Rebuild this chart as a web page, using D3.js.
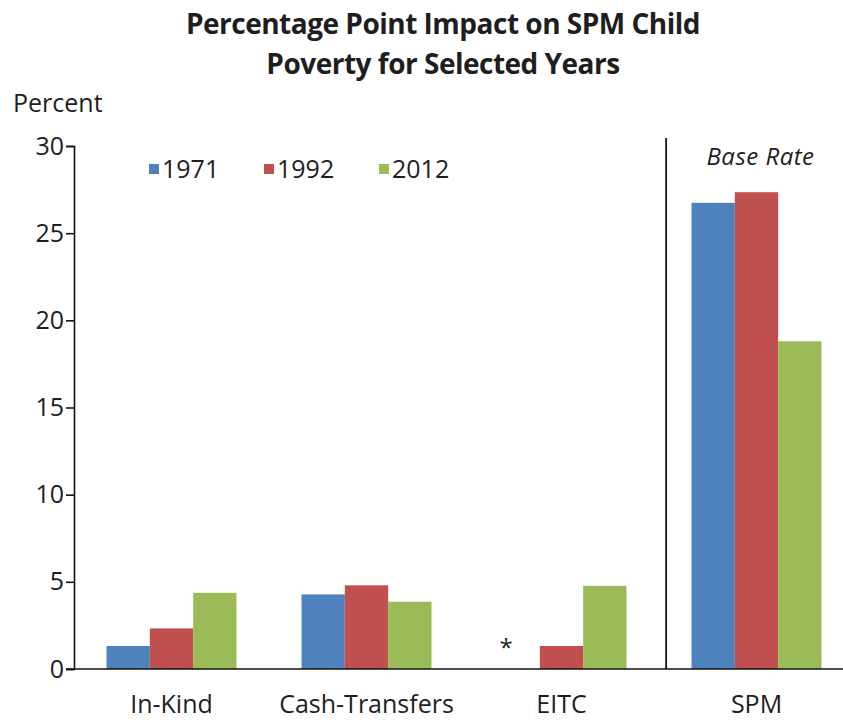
<!DOCTYPE html>
<html>
<head>
<meta charset="utf-8">
<script src="https://cdn.jsdelivr.net/npm/d3@7"></script>
<style>
  body { margin: 0; background: #fff; }
  svg text { font-family: "Open Sans", "Noto Sans", sans-serif; fill: #1e1e1e; }
</style>
</head>
<body>
<svg width="843" height="723"></svg>
<script>
// chart data
var categories = ["In-Kind", "Cash-Transfers", "EITC", "SPM"];
var years = ["1971", "1992", "2012"];
var values1971 = [1.32, 4.28, 0, 26.74];
var values1992 = [2.33, 4.8, 1.32, 27.35];
var values2012 = [4.37, 3.86, 4.77, 18.8];
var yTicks = [0, 5, 10, 15, 20, 25, 30];
var colors = ["#4f81bd", "#c0504d", "#9bbb59"];

(function() {
  var series = [values1971, values1992, values2012];

  var svg = d3.select("svg"),
      width = +svg.attr("width");

  var left = 74, bottom = 669, plotTop = 146;

  var x0 = d3.scaleBand()
      .domain(categories)
      .range([left, left + 780])
      .paddingInner(1 / 3)
      .paddingOuter(1 / 6);

  var x1 = d3.scaleBand()
      .domain(years)
      .range([0, x0.bandwidth()]);

  var y = d3.scaleLinear()
      .domain([0, 30])
      .range([bottom, plotTop]);

  var color = d3.scaleOrdinal().domain(years).range(colors);

  // title
  var title = svg.append("text")
      .attr("x", 443)
      .attr("y", 34)
      .style("text-anchor", "middle")
      .style("font-weight", "bold")
      .style("font-size", "28px")
      .style("letter-spacing", "-0.5px");
  title.append("tspan").attr("x", 443).text("Percentage Point Impact on SPM Child");
  title.append("tspan").attr("x", 443).attr("dy", 40).text("Poverty for Selected Years");

  svg.append("text")
      .attr("x", 13)
      .attr("y", 112)
      .style("font-size", "25px")
      .text("Percent");

  // bars
  var group = svg.selectAll(".cat")
      .data(categories)
      .enter().append("g")
      .attr("class", "cat")
      .attr("transform", function(d) { return "translate(" + x0(d) + ",0)"; });

  group.selectAll("rect")
      .data(function(d, i) {
          return years.map(function(yr, j) { return {year: yr, value: series[j][i]}; })
              .filter(function(e) { return e.value > 0; });
      })
      .enter().append("rect")
      .attr("x", function(d) { return x1(d.year); })
      .attr("y", function(d) { return y(d.value); })
      .attr("width", x1.bandwidth())
      .attr("height", function(d) { return y(0) - y(d.value); })
      .style("fill", function(d) { return color(d.year); });

  // asterisk where the 1971 EITC value is missing
  svg.append("text")
      .attr("x", x0("EITC") + x1("1971") + x1.bandwidth() / 2 - 12)
      .attr("y", y(0) - 13)
      .style("text-anchor", "middle")
      .style("font-size", "24px")
      .text("*");

  // y axis
  var yAxis = svg.append("g")
      .attr("transform", "translate(" + left + ",0)")
      .call(d3.axisLeft(y).tickValues(yTicks).tickSize(8).tickPadding(2));
  yAxis.select(".domain").attr("stroke", "#111").attr("stroke-width", 1.6);
  yAxis.selectAll(".tick line").attr("stroke", "#111").attr("stroke-width", 1.6);
  yAxis.selectAll(".tick text")
      .style("font-family", "'Open Sans', sans-serif")
      .style("font-size", "25px")
      .attr("fill", "#1e1e1e");

  // x axis
  var xAxis = svg.append("g")
      .attr("transform", "translate(0," + bottom + ")")
      .call(d3.axisBottom(x0).tickSize(0).tickPadding(26));
  xAxis.select(".domain")
      .attr("d", "M" + (left - 8) + ",0H" + width)
      .attr("stroke", "#111")
      .attr("stroke-width", 1.6);
  xAxis.selectAll(".tick text")
      .style("font-family", "'Open Sans', sans-serif")
      .style("font-size", "25px")
      .attr("fill", "#1e1e1e");

  // separator before the base rate
  var sepX = x0("SPM") - x0.step() * 0.13;
  svg.append("line")
      .attr("x1", sepX).attr("x2", sepX)
      .attr("y1", plotTop - 8).attr("y2", bottom)
      .attr("stroke", "#111")
      .attr("stroke-width", 1.8);

  svg.append("text")
      .attr("x", x0("SPM") + x0.bandwidth() / 2 + 4)
      .attr("y", 165)
      .style("text-anchor", "middle")
      .style("font-style", "italic")
      .style("font-size", "24px")
      .style("letter-spacing", "0.5px")
      .text("Base Rate");

  // legend
  var legend = svg.selectAll(".legend")
      .data(years)
      .enter().append("g")
      .attr("class", "legend")
      .attr("transform", function(d, i) { return "translate(" + (149 + i * 115) + ",164)"; });

  legend.append("rect")
      .attr("width", 10)
      .attr("height", 10)
      .style("fill", function(d) { return color(d); });

  legend.append("text")
      .attr("x", 13)
      .attr("y", 5)
      .attr("dy", "0.36em")
      .style("font-size", "25px")
      .text(function(d) { return d; });
})();
</script>
</body>
</html>
